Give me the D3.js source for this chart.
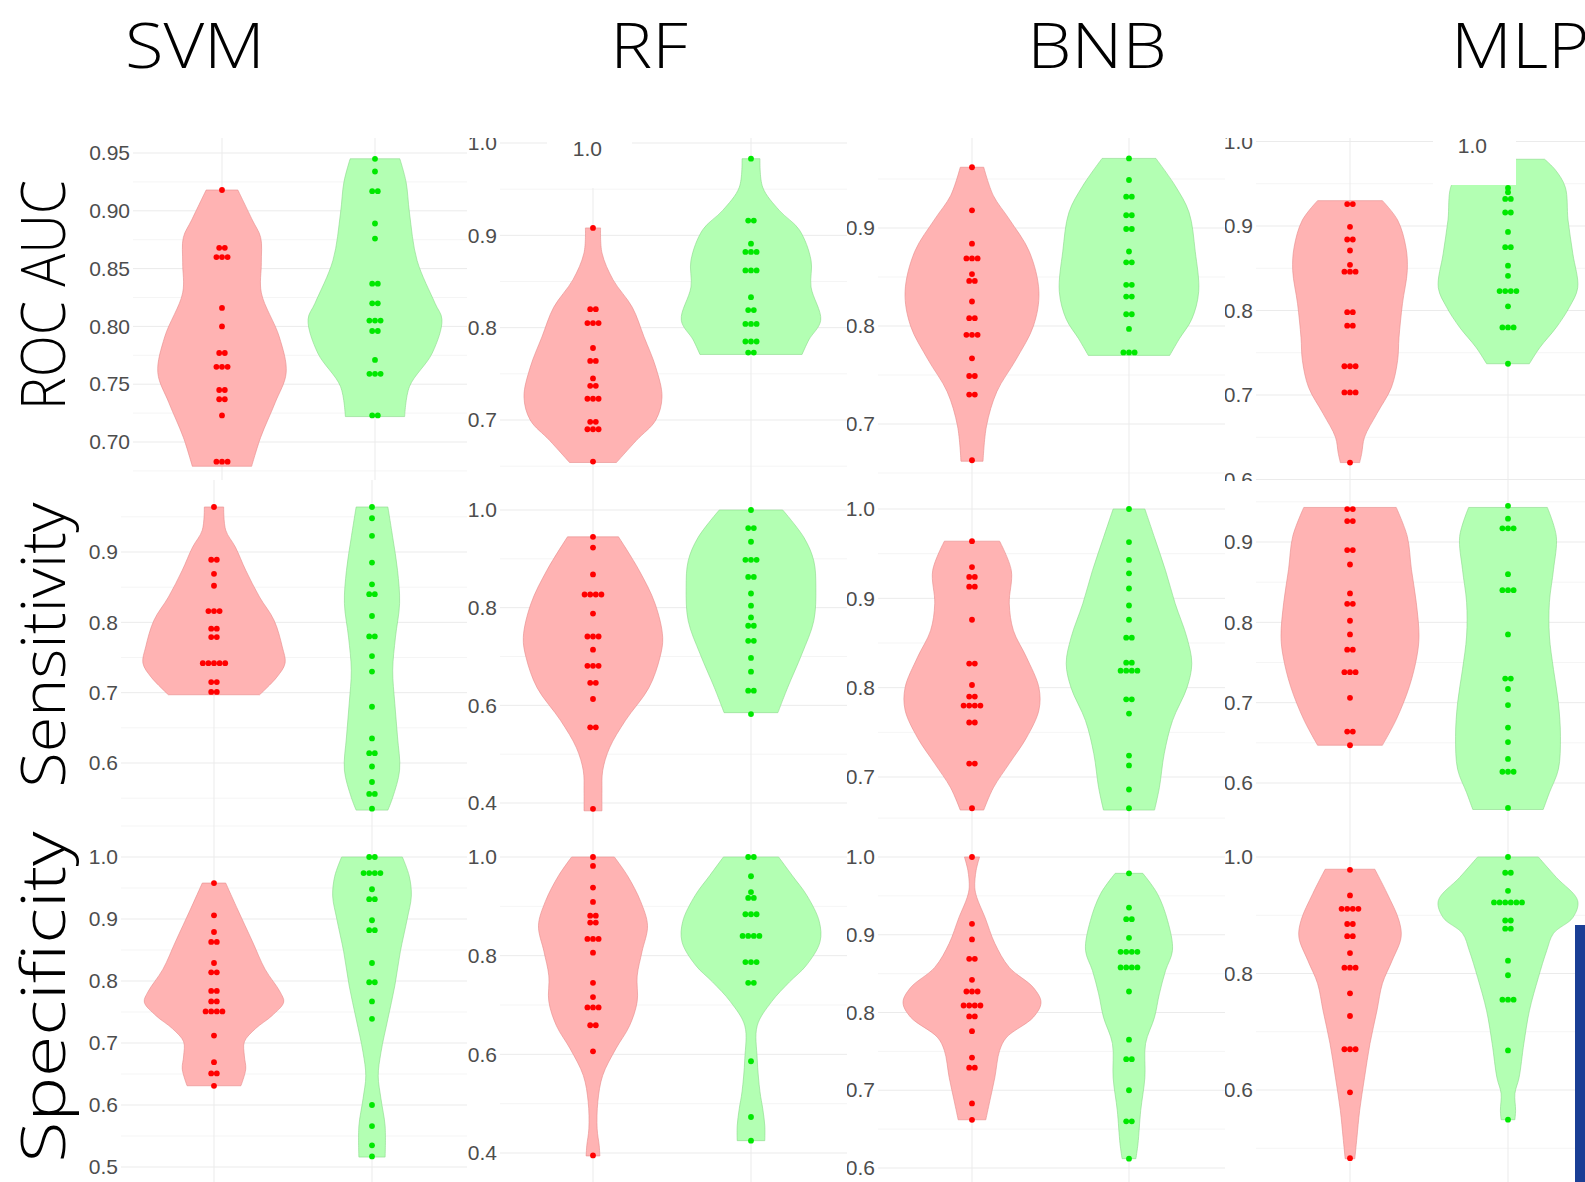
<!DOCTYPE html>
<html lang="en">
<head>
<meta charset="UTF-8"/>
<title>Violin plots - SVM, RF, BNB, MLP</title>
<script src="https://d3js.org/d3.v7.min.js"></script>
<style>
	body { margin:0; background:#fff; }
	.title { font-family:"Open Sans", sans-serif; font-weight:300; font-size:63px; fill:#000; }
	.rowlab { font-family:"Open Sans", sans-serif; font-weight:300; font-size:60px; fill:#000; }
	.tick text, .patch text { font-family:"Liberation Sans", Arial, sans-serif; font-size:21px; fill:#4d4d4d; }
	.major { stroke:#ebebeb; stroke-width:1; }
	.minor { stroke:#f3f3f3; stroke-width:0.8; }
</style>
</head>
<body>
<div id="chart"></div>
<script>
var w = 1585, h = 1182;

var models = ["SVM", "RF", "BNB", "MLP"];
var metrics = ["ROC AUC", "Sensitivity", "Specificity"];
var groups = ["0", "1"];

// tick values per panel (row by row)
var ticksRoc = [[0.70,0.75,0.80,0.85,0.90,0.95],[0.7,0.8,0.9,1.0],[0.7,0.8,0.9],[0.6,0.7,0.8,0.9,1.0]];
var ticksSens = [[0.6,0.7,0.8,0.9],[0.4,0.6,0.8,1.0],[0.7,0.8,0.9,1.0],[0.6,0.7,0.8,0.9]];
var ticksSpec = [[0.5,0.6,0.7,0.8,0.9,1.0],[0.4,0.6,0.8,1.0],[0.6,0.7,0.8,0.9,1.0],[0.6,0.8,1.0]];

// violin profiles: [value, relative density]
var vSvmRoc0 = [[0.918,.23],[0.892,.44],[0.877,.56],[0.855,.57],[0.829,.57],[0.791,.83],[0.760,.93],[0.734,.77],[0.704,.56],[0.679,.43]];
var vSvmRoc1 = [[0.945,.36],[0.925,.45],[0.898,.5],[0.857,.61],[0.820,.87],[0.806,.97],[0.777,.83],[0.748,.5],[0.722,.43]];
var vRfRoc0 = [[0.908,.11],[0.881,.13],[0.852,.29],[0.822,.57],[0.790,.74],[0.757,.91],[0.725,1.0],[0.700,.91],[0.678,.63],[0.654,.34]];
var vRfRoc1 = [[0.983,.13],[0.952,.17],[0.927,.41],[0.906,.7],[0.873,.87],[0.844,.87],[0.808,1.01],[0.787,.84],[0.771,.74]];
var vBnbRoc0 = [[0.962,.17],[0.933,.31],[0.909,.54],[0.876,.83],[0.835,.97],[0.800,.89],[0.766,.64],[0.733,.36],[0.698,.21],[0.662,.16]];
var vBnbRoc1 = [[0.971,.39],[0.943,.67],[0.916,.87],[0.876,.96],[0.835,1.01],[0.807,.91],[0.787,.73],[0.770,.59]];
var vMlpRoc0 = [[0.930,.47],[0.907,.69],[0.875,.81],[0.847,.83],[0.808,.76],[0.768,.71],[0.741,.69],[0.709,.6],[0.678,.39],[0.650,.21],[0.631,.17],[0.620,.14]];
var vMlpRoc1 = [[0.979,.53],[0.966,.69],[0.946,.83],[0.907,.87],[0.867,.94],[0.827,1.01],[0.804,.89],[0.780,.7],[0.756,.46],[0.737,.31]];

var vSvmSens0 = [[0.964,.14],[0.931,.17],[0.907,.31],[0.874,.46],[0.836,.66],[0.803,.87],[0.765,.99],[0.742,1.03],[0.722,.91],[0.697,.66]];
var vSvmSens1 = [[0.964,.23],[0.921,.3],[0.874,.37],[0.827,.4],[0.779,.34],[0.732,.3],[0.685,.33],[0.637,.37],[0.590,.4],[0.551,.3],[0.533,.23]];
var vRfSens0 = [[0.945,.37],[0.876,.67],[0.808,.9],[0.739,1.01],[0.698,.97],[0.636,.81],[0.569,.47],[0.513,.24],[0.466,.14],[0.425,.13],[0.384,.13]];
var vRfSens1 = [[1.0,.46],[0.943,.77],[0.896,.91],[0.841,.94],[0.773,.91],[0.706,.74],[0.636,.53],[0.585,.39]];
var vBnbSens0 = [[0.964,.4],[0.931,.57],[0.894,.54],[0.864,.6],[0.834,.79],[0.800,.97],[0.775,.97],[0.744,.79],[0.715,.54],[0.688,.31],[0.663,.17]];
var vBnbSens1 = [[1.0,.23],[0.968,.37],[0.931,.53],[0.894,.67],[0.856,.84],[0.827,.91],[0.800,.84],[0.763,.63],[0.726,.51],[0.688,.44],[0.663,.37]];
var vMlpSens0 = [[0.943,.67],[0.907,.83],[0.866,.89],[0.825,.96],[0.783,1.0],[0.758,.97],[0.720,.86],[0.679,.67],[0.647,.47]];
var vMlpSens1 = [[0.943,.57],[0.907,.7],[0.866,.66],[0.825,.6],[0.783,.6],[0.741,.66],[0.700,.73],[0.658,.76],[0.617,.73],[0.588,.6],[0.567,.51]];

var vSvmSpec0 = [[0.958,.17],[0.916,.34],[0.863,.56],[0.819,.74],[0.782,.96],[0.766,1.01],[0.744,.84],[0.723,.6],[0.702,.44],[0.679,.44],[0.658,.46],[0.631,.39]];
var vSvmSpec1 = [[1.0,.44],[0.969,.54],[0.937,.57],[0.900,.51],[0.847,.41],[0.792,.33],[0.739,.23],[0.685,.13],[0.647,.09],[0.610,.13],[0.566,.19],[0.516,.19]];
var vRfSpec0 = [[1.0,.31],[0.962,.5],[0.910,.69],[0.861,.79],[0.808,.71],[0.759,.64],[0.707,.64],[0.658,.53],[0.611,.33],[0.557,.14],[0.504,.07],[0.449,.06],[0.415,.09],[0.394,.1]];
var vRfSpec1 = [[1.0,.4],[0.962,.6],[0.922,.81],[0.869,.99],[0.828,1.0],[0.780,.8],[0.747,.56],[0.707,.3],[0.658,.09],[0.591,.09],[0.524,.13],[0.490,.17],[0.455,.2],[0.425,.2]];
var vBnbSpec0 = [[1.0,.11],[0.983,.06],[0.961,.04],[0.948,.07],[0.922,.19],[0.889,.33],[0.858,.54],[0.832,.89],[0.813,1.0],[0.794,.89],[0.768,.5],[0.751,.4],[0.716,.33],[0.687,.26],[0.662,.2]];
var vBnbSpec1 = [[0.979,.2],[0.953,.41],[0.918,.56],[0.880,.63],[0.854,.53],[0.824,.44],[0.794,.37],[0.760,.24],[0.716,.23],[0.674,.17],[0.631,.13],[0.612,.1]];
var vMlpSpec0 = [[0.979,.36],[0.937,.54],[0.891,.71],[0.862,.74],[0.822,.61],[0.783,.47],[0.736,.39],[0.680,.29],[0.621,.21],[0.565,.14],[0.518,.1],[0.482,.07]];
var vMlpSpec1 = [[1.0,.44],[0.965,.7],[0.925,1.01],[0.896,.94],[0.869,.66],[0.839,.56],[0.793,.44],[0.736,.31],[0.680,.23],[0.621,.16],[0.594,.1],[0.565,.11],[0.549,.1]];

// individual scores (one entry per dot)
var dSvmRoc0 = [0.918,0.868,0.868,0.860,0.860,0.860,0.816,0.800,0.777,0.777,0.765,0.765,0.765,0.745,0.745,0.737,0.737,0.723,0.683,0.683,0.683];
var dSvmRoc1 = [0.945,0.934,0.917,0.917,0.889,0.876,0.837,0.837,0.820,0.820,0.805,0.805,0.805,0.796,0.796,0.771,0.759,0.759,0.759,0.723,0.723];
var dRfRoc0 = [0.908,0.820,0.820,0.805,0.805,0.805,0.778,0.764,0.764,0.745,0.737,0.737,0.723,0.723,0.723,0.698,0.698,0.690,0.690,0.690,0.655];
var dRfRoc1 = [0.983,0.916,0.916,0.891,0.882,0.882,0.882,0.862,0.862,0.862,0.833,0.819,0.819,0.804,0.804,0.804,0.785,0.785,0.785,0.773,0.773];
var dBnbRoc0 = [0.962,0.918,0.884,0.869,0.869,0.869,0.853,0.846,0.846,0.825,0.808,0.808,0.791,0.791,0.791,0.767,0.749,0.749,0.730,0.730,0.663];
var dBnbRoc1 = [0.971,0.949,0.932,0.932,0.913,0.913,0.899,0.899,0.876,0.865,0.865,0.842,0.842,0.830,0.830,0.812,0.812,0.797,0.773,0.773,0.773];
var dMlpRoc0 = [0.926,0.926,0.899,0.884,0.884,0.871,0.854,0.846,0.846,0.846,0.798,0.798,0.782,0.782,0.734,0.734,0.734,0.703,0.703,0.703,0.620];
var dMlpRoc1 = [0.945,0.940,0.932,0.932,0.916,0.916,0.893,0.875,0.875,0.853,0.841,0.823,0.823,0.823,0.823,0.805,0.780,0.780,0.780,0.737];

var dSvmSens0 = [0.964,0.889,0.889,0.869,0.852,0.816,0.816,0.816,0.791,0.791,0.779,0.779,0.742,0.742,0.742,0.742,0.742,0.715,0.715,0.701,0.701];
var dSvmSens1 = [0.964,0.948,0.923,0.885,0.854,0.840,0.840,0.809,0.780,0.780,0.752,0.730,0.680,0.635,0.614,0.614,0.595,0.573,0.556,0.556,0.535];
var dRfSens0 = [0.945,0.923,0.868,0.827,0.827,0.827,0.827,0.788,0.741,0.741,0.741,0.714,0.681,0.681,0.681,0.646,0.646,0.613,0.555,0.555,0.388];
var dRfSens1 = [1.0,0.963,0.963,0.935,0.898,0.898,0.898,0.863,0.863,0.829,0.804,0.780,0.763,0.763,0.732,0.732,0.697,0.669,0.630,0.630,0.582];
var dBnbSens0 = [0.964,0.935,0.924,0.924,0.913,0.913,0.876,0.827,0.827,0.803,0.790,0.790,0.780,0.780,0.780,0.780,0.761,0.761,0.715,0.715,0.665];
var dBnbSens1 = [1.0,0.963,0.943,0.928,0.911,0.892,0.876,0.856,0.856,0.828,0.828,0.819,0.819,0.819,0.819,0.787,0.787,0.771,0.724,0.713,0.686,0.665];
var dMlpSens0 = [0.941,0.941,0.926,0.926,0.890,0.890,0.872,0.836,0.823,0.823,0.802,0.785,0.766,0.766,0.738,0.738,0.738,0.706,0.664,0.664,0.647];
var dMlpSens1 = [0.945,0.929,0.917,0.917,0.917,0.860,0.840,0.840,0.840,0.785,0.730,0.730,0.717,0.697,0.669,0.651,0.630,0.614,0.614,0.614,0.569];

var dSvmSpec0 = [0.958,0.906,0.879,0.863,0.863,0.829,0.814,0.814,0.784,0.784,0.767,0.767,0.751,0.751,0.751,0.751,0.712,0.669,0.651,0.651,0.631];
var dSvmSpec1 = [1.0,1.0,0.974,0.974,0.974,0.974,0.948,0.932,0.932,0.898,0.882,0.882,0.829,0.798,0.798,0.767,0.739,0.600,0.566,0.535,0.517];
var dRfSpec0 = [1.0,0.982,0.938,0.909,0.881,0.881,0.867,0.867,0.834,0.834,0.834,0.806,0.745,0.716,0.695,0.695,0.695,0.659,0.659,0.606,0.395];
var dRfSpec1 = [1.0,1.0,0.961,0.929,0.917,0.917,0.884,0.884,0.884,0.840,0.840,0.840,0.840,0.787,0.787,0.787,0.745,0.745,0.586,0.473,0.425];
var dBnbSpec0 = [1.0,0.914,0.894,0.869,0.869,0.842,0.827,0.827,0.827,0.809,0.809,0.809,0.809,0.795,0.795,0.776,0.742,0.729,0.729,0.683,0.662];
var dBnbSpec1 = [0.979,0.935,0.920,0.920,0.896,0.878,0.878,0.878,0.878,0.858,0.858,0.858,0.858,0.827,0.765,0.740,0.740,0.700,0.660,0.660,0.612];
var dMlpSpec0 = [0.978,0.934,0.911,0.911,0.911,0.911,0.885,0.885,0.864,0.864,0.835,0.810,0.810,0.810,0.766,0.727,0.670,0.670,0.670,0.596,0.483];
var dMlpSpec1 = [1.0,0.973,0.973,0.942,0.922,0.922,0.922,0.922,0.922,0.922,0.891,0.891,0.877,0.877,0.822,0.797,0.755,0.755,0.755,0.668,0.549];

// panel table built from the arrays above
var panels = [
	{ticks:ticksRoc[0], fmt:".2f", v:[vSvmRoc0,vSvmRoc1], d:[dSvmRoc0,dSvmRoc1]},
	{ticks:ticksRoc[1], fmt:".1f", v:[vRfRoc0,vRfRoc1], d:[dRfRoc0,dRfRoc1]},
	{ticks:ticksRoc[2], fmt:".1f", v:[vBnbRoc0,vBnbRoc1], d:[dBnbRoc0,dBnbRoc1]},
	{ticks:ticksRoc[3], fmt:".1f", v:[vMlpRoc0,vMlpRoc1], d:[dMlpRoc0,dMlpRoc1]},
	{ticks:ticksSens[0], fmt:".1f", v:[vSvmSens0,vSvmSens1], d:[dSvmSens0,dSvmSens1]},
	{ticks:ticksSens[1], fmt:".1f", v:[vRfSens0,vRfSens1], d:[dRfSens0,dRfSens1]},
	{ticks:ticksSens[2], fmt:".1f", v:[vBnbSens0,vBnbSens1], d:[dBnbSens0,dBnbSens1]},
	{ticks:ticksSens[3], fmt:".1f", v:[vMlpSens0,vMlpSens1], d:[dMlpSens0,dMlpSens1]},
	{ticks:ticksSpec[0], fmt:".1f", v:[vSvmSpec0,vSvmSpec1], d:[dSvmSpec0,dSvmSpec1]},
	{ticks:ticksSpec[1], fmt:".1f", v:[vRfSpec0,vRfSpec1], d:[dRfSpec0,dRfSpec1]},
	{ticks:ticksSpec[2], fmt:".1f", v:[vBnbSpec0,vBnbSpec1], d:[dBnbSpec0,dBnbSpec1]},
	{ticks:ticksSpec[3], fmt:".1f", v:[vMlpSpec0,vMlpSpec1], d:[dMlpSpec0,dMlpSpec1]}
];

// layout of the pasted panels: clip box, two y anchors, label edge, group centres
var layout = [
	{clip:[70,138,467,480], ya:[0.95,153,0.70,442], lx:130, cx:[222,375]},
	{clip:[467,138,847,467], ya:[1.0,143,0.7,420], lx:497, cx:[593,751]},
	{clip:[847,138,1225,476], ya:[0.9,228,0.7,424], lx:875, cx:[972,1129]},
	{clip:[1225,138,1585,481], ya:[0.9,226,0.7,395], lx:1253, cx:[1350,1508]},
	{clip:[70,480,467,812], ya:[0.9,552,0.6,763], lx:118, cx:[214,372]},
	{clip:[467,467,847,812], ya:[1.0,510,0.4,803], lx:497, cx:[593,751]},
	{clip:[847,476,1225,812], ya:[1.0,509,0.7,777], lx:875, cx:[972,1129]},
	{clip:[1225,481,1585,812], ya:[0.9,542,0.6,783], lx:1253, cx:[1350,1508]},
	{clip:[70,812,467,1182], ya:[1.0,857,0.5,1167], lx:118, cx:[214,372]},
	{clip:[467,812,847,1182], ya:[1.0,857,0.4,1153], lx:497, cx:[593,751]},
	{clip:[847,812,1225,1182], ya:[1.0,857,0.6,1168], lx:875, cx:[972,1129]},
	{clip:[1225,812,1585,1182], ya:[1.0,857,0.6,1090], lx:1253, cx:[1350,1508]}
];

var fills = ["#ffb3b3", "#b3ffb3"];
var strokes = ["#e58a8a", "#8ad88a"];
var dotCols = ["#ff0000", "#00e800"];

var svg = d3.select("#chart")
			.append("svg")
			.attr("width", w)
			.attr("height", h);

svg.append("rect").attr("width", w).attr("height", h).attr("fill", "#fff");

var wScale = d3.scaleLinear().domain([0, 1]).range([0, 69]);

panels.forEach(function(p, i){
	var L = layout[i];
	var c = L.clip;
	var yScale = d3.scaleLinear()
				.domain([L.ya[0], L.ya[2]])
				.range([L.ya[1], L.ya[3]]);
	var xScale = d3.scalePoint()
				.domain(groups)
				.range(L.cx);

	svg.append("clipPath").attr("id", "clip" + i)
		.append("rect")
		.attr("x", c[0]).attr("y", c[1])
		.attr("width", c[2] - c[0]).attr("height", c[3] - c[1]);

	var g = svg.append("g").attr("clip-path", "url(#clip" + i + ")");

	// gridlines
	var step = p.ticks[1] - p.ticks[0];
	var minors = p.ticks.map(function(t){ return t - step / 2; })
				.concat([p.ticks[p.ticks.length - 1] + step / 2]);
	g.selectAll(".minor").data(minors).enter().append("line")
		.attr("class", "minor")
		.attr("x1", L.lx + 3).attr("x2", c[2])
		.attr("y1", function(d){ return yScale(d); })
		.attr("y2", function(d){ return yScale(d); });
	g.selectAll(".major").data(p.ticks).enter().append("line")
		.attr("class", "major")
		.attr("x1", L.lx + 3).attr("x2", c[2])
		.attr("y1", function(d){ return yScale(d); })
		.attr("y2", function(d){ return yScale(d); });
	g.selectAll(".vgrid").data(groups).enter().append("line")
		.attr("class", "major vgrid")
		.attr("x1", function(d){ return xScale(d); })
		.attr("x2", function(d){ return xScale(d); })
		.attr("y1", c[1]).attr("y2", c[3]);

	// violins and dots
	groups.forEach(function(grp, k){
		var cx = xScale(grp);
		var area = d3.area()
					.curve(d3.curveCatmullRom.alpha(0.5))
					.y(function(d){ return yScale(d[0]); })
					.x0(function(d){ return cx - wScale(d[1]); })
					.x1(function(d){ return cx + wScale(d[1]); });
		g.append("path")
			.datum(p.v[k])
			.attr("d", area)
			.attr("fill", fills[k])
			.attr("stroke", strokes[k])
			.attr("stroke-width", 0.6);

		var dots = [];
		d3.groups(p.d[k], function(v){ return v; }).forEach(function(gr){
			var n = gr[1].length;
			gr[1].forEach(function(v, j){
				dots.push({v: v, off: (j - (n - 1) / 2) * 5.6});
			});
		});
		g.selectAll(".dot" + k).data(dots).enter().append("circle")
			.attr("cx", function(d){ return cx + d.off; })
			.attr("cy", function(d){ return yScale(d.v); })
			.attr("r", 2.9)
			.attr("fill", dotCols[k]);
	});

	// tick labels
	var yAxis = d3.axisLeft()
				.scale(yScale)
				.tickValues(p.ticks)
				.tickFormat(d3.format(p.fmt))
				.tickSize(0)
				.tickPadding(0);
	g.append("g")
		.attr("transform", "translate(" + L.lx + ",0)")
		.call(yAxis)
		.call(function(a){ a.select(".domain").remove(); });
});

// white patches with stray "1.0" labels left over from the collage
var patches = [
	{x:547, y:130, w:85, h:58, tx:602, ty:149},
	{x:1433, y:130, w:83, h:55, tx:1487, ty:146}
];
patches.forEach(function(q){
	var pg = svg.append("g").attr("class", "patch");
	pg.append("rect").attr("x", q.x).attr("y", q.y).attr("width", q.w).attr("height", q.h).attr("fill", "#fff");
	pg.append("text").attr("x", q.tx).attr("y", q.ty).attr("dy", "0.35em")
		.attr("text-anchor", "end").text("1.0");
});

// blue edge at the bottom right
svg.append("rect").attr("x", 1575).attr("y", 925).attr("width", 10).attr("height", 257).attr("fill", "#1a3e95");

// column titles
var titleX = [195, 649, 1097, 1451];
svg.selectAll(".title").data(models).enter().append("text")
	.attr("class", "title")
	.attr("x", function(d, i){ return titleX[i]; })
	.attr("y", 68)
	.attr("text-anchor", function(d, i){ return i < 3 ? "middle" : "start"; })
	.attr("transform", function(d, i){
		return "translate(" + titleX[i] + ",0) scale(1.12,1) translate(" + (-titleX[i]) + ",0)";
	})
	.text(function(d){ return d; });

// row labels, stretched along their length to the widths seen in the figure
var rowY = [295, 645, 997];
var rowLen = [230, 285, 331];
svg.selectAll(".rowlab").data(metrics).enter().append("text")
	.attr("class", "rowlab")
	.attr("text-anchor", "middle")
	.text(function(d){ return d; })
	.attr("transform", function(d, i){
		var len = this.getComputedTextLength();
		return "translate(65," + rowY[i] + ") rotate(-90) scale(" + (rowLen[i] / len) + ",1)";
	});
</script>
</body>
</html>
